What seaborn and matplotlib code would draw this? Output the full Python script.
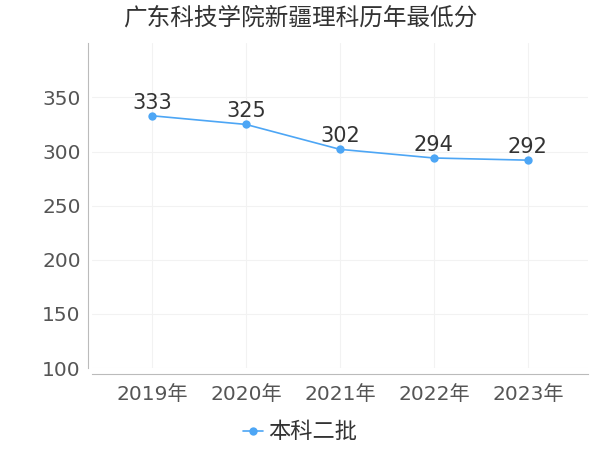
import matplotlib
matplotlib.use("Agg")
import matplotlib.pyplot as plt
import seaborn as sns
import pandas as pd

years = ["2019年", "2020年", "2021年", "2022年", "2023年"]
scores = [333, 325, 302, 294, 292]
series_name = "本科二批"
title = "广东科技学院新疆理科历年最低分"

sns.set_style("white")
plt.rcParams['font.family'] = ['DejaVu Sans', 'Noto Sans CJK SC']

df = pd.DataFrame({"year": years, "score": scores})

fig = plt.figure(figsize=(6, 4.5), dpi=100)
ax = fig.add_axes([0.153, 0.182, 0.827, 0.722])

sns.lineplot(data=df, x="year", y="score", ax=ax, color="#4da6f5", marker="o",
             markersize=6, markeredgewidth=0, linewidth=1.2, label=series_name, sort=False)

for i, v in enumerate(scores):
    ax.text(i, v + 3, str(v), ha="center", va="bottom", fontsize=15, color="#333333")

ax.set_ylim(100, 400)
ax.set_xlim(-0.64, 4.64)
ax.set_yticks([100, 150, 200, 250, 300, 350])
ax.set_xlabel("")
ax.set_ylabel("")
ax.grid(True, color="#f2f2f2", linewidth=0.8)
ax.tick_params(axis="both", labelsize=14.5, labelcolor="#555555", colors="#bbbbbb", length=4, pad=1)
ax.tick_params(axis="x", pad=4)

for s in ["top", "right"]:
    ax.spines[s].set_visible(False)
ax.spines["left"].set_color("#bbbbbb")
ax.spines["bottom"].set_color("#bbbbbb")
ax.spines["left"].set_position(("outward", 3))
ax.spines["bottom"].set_position(("outward", 4))

ax.legend(loc="center", bbox_to_anchor=(0.5, 0.04), bbox_transform=fig.transFigure,
          frameon=False, handlelength=0.9, handletextpad=0.2, labelcolor="#333333",
          prop={"family": "Noto Sans CJK SC", "size": 16})

fig.text(0.5, 0.96, title, ha="center", va="center", fontsize=17, color="#333333",
         family="Noto Sans CJK SC")

fig.savefig("out.png", dpi=100)
